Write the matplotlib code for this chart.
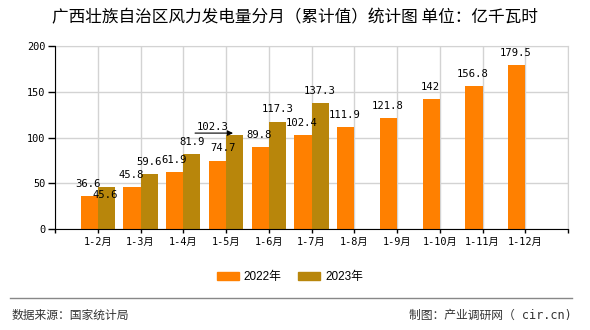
import matplotlib
matplotlib.use("Agg")
import matplotlib.pyplot as plt
from matplotlib.lines import Line2D
from matplotlib.patches import Patch
from matplotlib.transforms import ScaledTranslation
import numpy as np

categories = ["1-2月", "1-3月", "1-4月", "1-5月", "1-6月", "1-7月", "1-8月",
              "1-9月", "1-10月", "1-11月", "1-12月"]
values_2022 = [36.6, 45.8, 61.9, 74.7, 89.8, 102.4, 111.9, 121.8, 142, 156.8, 179.5]
values_2023 = [45.6, 59.6, 81.9, 102.3, 117.3, 137.3]
value_labels_2022 = ["36.6", "45.8", "61.9", "74.7", "89.8", "102.4", "111.9",
                     "121.8", "142", "156.8", "179.5"]
value_labels_2023 = ["45.6", "59.6", "81.9", "102.3", "117.3", "137.3"]
yticks = [0, 50, 100, 150, 200]
series_names = ["2022年", "2023年"]

# label offsets (pixels) relative to bar-top centre — styling only
off_2022 = [(-1, 12)] * 11
off_2022 = list(off_2022)
off_2022[3] = (6, 13)
off_2023 = [(-1, -8), (0, 12), (0, 12.4), (-22, 8.4), (0, 12.7), (0, 12.4)]

C22 = "#FF8000"
C23 = "#B8860B"
mono = ["DejaVu Sans Mono", "Noto Sans CJK SC"]
cjk = ["Noto Sans CJK SC", "DejaVu Sans"]

fig = plt.figure(figsize=(5.9, 3.3), dpi=100)
ax = fig.add_axes([55 / 590, 1 - 229 / 330, (568 - 55) / 590, (229 - 46) / 330])

n = len(categories)
x = np.arange(1, n + 1)
w = 0.4
x22 = x - w / 2
x23 = x[:len(values_2023)] + w / 2
ax.bar(x22, values_2022, width=w, color=C22, zorder=3)
ax.bar(x23, values_2023, width=w, color=C23, zorder=3)

ax.set_xlim(0, n + 1)
ax.set_ylim(0, 200)
ax.set_yticks(yticks)
ax.set_yticklabels([str(t) for t in yticks], family=mono, fontsize=7.4)
ax.set_xticks(np.arange(0, n + 2))
ax.set_xticklabels([""] + categories + [""], family=mono, fontsize=7.4)
ax.tick_params(axis="x", length=3, width=1, pad=3, color="black")
ax.tick_params(axis="y", length=5, width=1, pad=2, color="black")
ax.grid(True, color="#D3D3D3", lw=1, zorder=0)
ax.set_axisbelow(True)
for s in ["top", "right"]:
    ax.spines[s].set_color("#D3D3D3")
for s in ["left", "bottom"]:
    ax.spines[s].set_color("black")
    ax.spines[s].set_zorder(4)

px = 72 / 100.0


def off_trans(dx, dy):
    return ax.transData + ScaledTranslation(dx / 100.0, dy / 100.0, fig.dpi_scale_trans)


for xi, v, lab, (dx, dy) in zip(x22, values_2022, value_labels_2022, off_2022):
    ax.text(xi, v, lab, transform=off_trans(dx, dy), ha="center", va="center",
            family=mono, fontsize=7.6, zorder=5)
for xi, v, lab, (dx, dy) in zip(x23, values_2023, value_labels_2023, off_2023):
    ax.text(xi, v, lab, transform=off_trans(dx, dy), ha="center", va="center",
            family=mono, fontsize=7.6, zorder=5)

# arrow for the shifted 102.3 label
i = 3
ax.annotate("", xy=(x23[i], values_2023[i]), xycoords=off_trans(-1.5, 2.3),
            xytext=(-38 * px, 0), textcoords="offset points",
            arrowprops=dict(arrowstyle="-|>", color="black", lw=0.8,
                            shrinkA=0, shrinkB=0, mutation_scale=8), zorder=6)

fig.text(0.5, 1 - 17.5 / 330, "广西壮族自治区风力发电量分月（累计值）统计图 单位：亿千瓦时",
         ha="center", va="center", family=cjk, fontsize=12)

handles = [Patch(color=C22), Patch(color=C23)]
fig.legend(handles, series_names, loc="center", bbox_to_anchor=(290 / 590, 1 - 277 / 330),
           ncol=2, frameon=False, prop={"family": ["Liberation Sans", "Noto Sans CJK SC"], "size": 8.5},
           handlelength=1.86, handleheight=0.76, handletextpad=0.4, columnspacing=1.4)

fig.add_artist(Line2D([10 / 590, 572 / 590], [1 - 298.3 / 330] * 2, color="#888888", lw=1))
fig.text(11.7 / 590, 1 - 315 / 330, "数据来源：国家统计局", ha="left", va="center",
         family=cjk, fontsize=8.5, color="#333333")
fig.text(572 / 590, 1 - 315 / 330, "制图：产业调研网（ cir.cn)", ha="right", va="center",
         family=mono, fontsize=8.5, color="#333333")

fig.savefig("out.png", dpi=100)
